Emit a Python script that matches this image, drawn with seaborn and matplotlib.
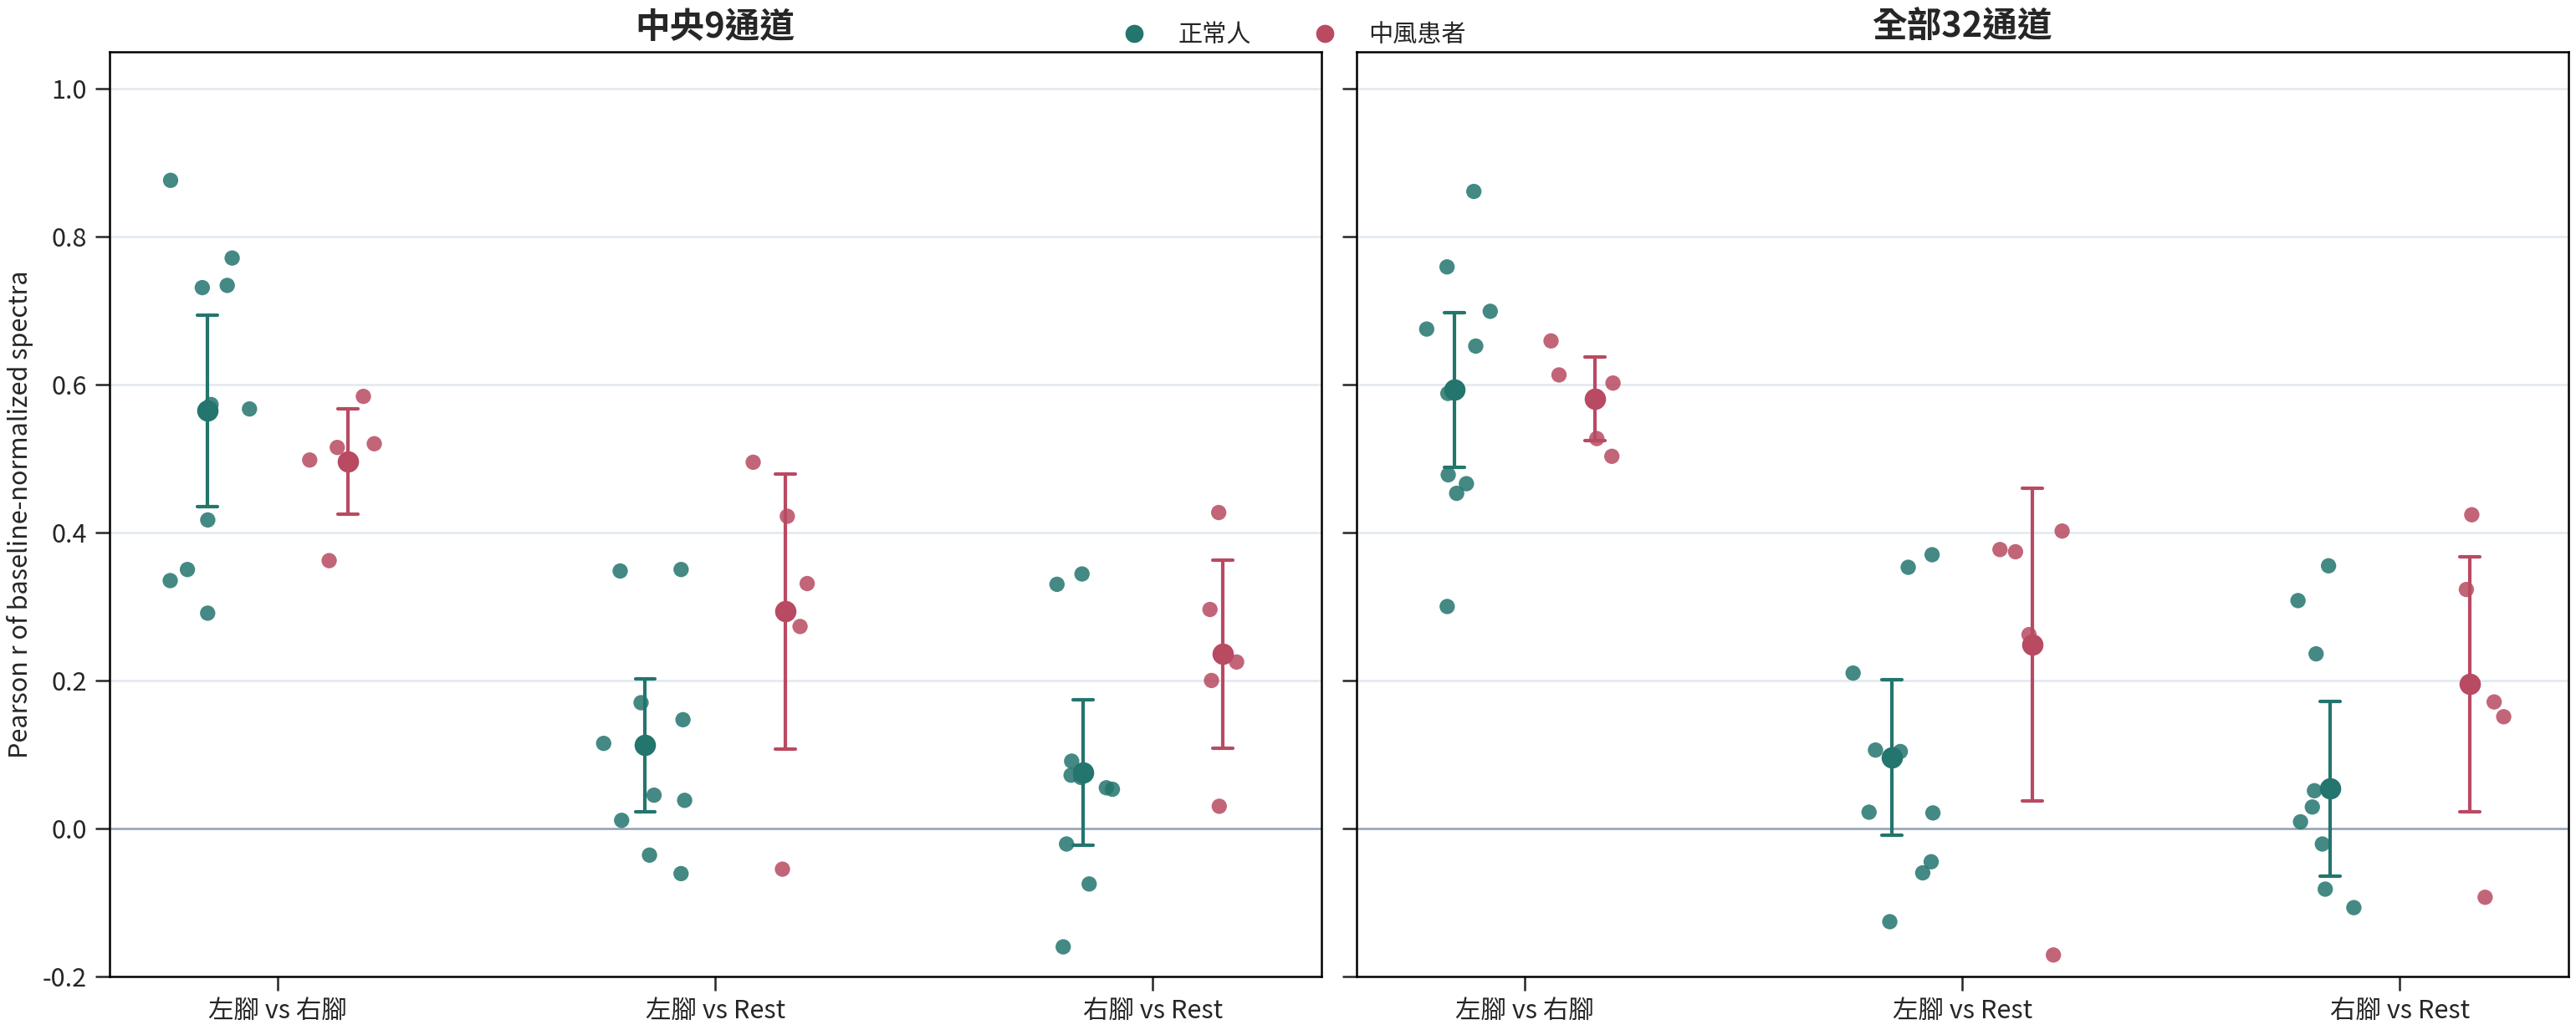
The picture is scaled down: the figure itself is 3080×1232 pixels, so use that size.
import numpy as np
import pandas as pd
import matplotlib
matplotlib.use("Agg")
import matplotlib.pyplot as plt
import seaborn as sns

# ---------------- data ----------------
categories = ["左腳 vs 右腳", "左腳 vs Rest", "右腳 vs Rest"]
groups = ["正常人", "中風患者"]
panels = ["中央9通道", "全部32通道"]

# 中央9通道
c9_normal_LR = [0.876, 0.771, 0.731, 0.734, 0.567, 0.573, 0.417, 0.335, 0.350, 0.291]
c9_stroke_LR = [0.584, 0.520, 0.515, 0.498, 0.362]
c9_normal_LRest = [0.350, 0.348, 0.170, 0.147, 0.115, 0.045, 0.038, 0.011, -0.036, -0.061]
c9_stroke_LRest = [0.495, 0.422, 0.331, 0.273, -0.055]
c9_normal_RRest = [0.330, 0.344, 0.091, 0.069, 0.072, 0.053, 0.055, -0.021, -0.075, -0.160]
c9_stroke_RRest = [0.427, 0.296, 0.225, 0.200, 0.030]

# 全部32通道
a32_normal_LR = [0.861, 0.759, 0.699, 0.675, 0.652, 0.588, 0.478, 0.466, 0.453, 0.300]
a32_stroke_LR = [0.659, 0.613, 0.602, 0.527, 0.503]
a32_normal_LRest = [0.370, 0.353, 0.210, 0.106, 0.104, 0.022, 0.021, -0.045, -0.060, -0.126]
a32_stroke_LRest = [0.402, 0.377, 0.374, 0.262, -0.171]
a32_normal_RRest = [0.355, 0.308, 0.236, 0.051, 0.029, 0.009, -0.021, -0.082, -0.107, -0.239]
a32_stroke_RRest = [0.424, 0.323, 0.171, 0.151, -0.093]

panel_data = {
    panels[0]: {
        groups[0]: [c9_normal_LR, c9_normal_LRest, c9_normal_RRest],
        groups[1]: [c9_stroke_LR, c9_stroke_LRest, c9_stroke_RRest],
    },
    panels[1]: {
        groups[0]: [a32_normal_LR, a32_normal_LRest, a32_normal_RRest],
        groups[1]: [a32_stroke_LR, a32_stroke_LRest, a32_stroke_RRest],
    },
}

# ---------------- styling ----------------
palette = {groups[0]: "#23756d", groups[1]: "#b84a62"}
hue_shift = {groups[0]: -0.16, groups[1]: 0.16}

rows = []
for p in panels:
    for g in groups:
        for ci, vals in enumerate(panel_data[p][g]):
            for v in vals:
                rows.append({"panel": p, "group": g, "cat": ci, "r": v})
df = pd.DataFrame(rows)
df["pos"] = df["cat"] + df["group"].map(hue_shift)

sns.set_theme(style="ticks", rc={
    "axes.edgecolor": "black",
    "axes.linewidth": 0.9,
    "xtick.major.width": 0.9,
    "ytick.major.width": 0.9,
    "axes.unicode_minus": False,
})
plt.rcParams["font.family"] = ["Noto Sans CJK TC", "DejaVu Sans"]

fig, axes = plt.subplots(1, 2, figsize=(15.4, 6.16), dpi=200, sharey=True)
fig.subplots_adjust(left=0.0424, right=0.997, top=0.9499, bottom=0.052, wspace=0.0288)

np.random.seed(7)
legend_handles = None
for i, (ax, p) in enumerate(zip(axes, panels)):
    sub = df[df["panel"] == p]
    ax.yaxis.grid(True, color="#e2e8f0", linewidth=0.9)
    ax.set_axisbelow(True)
    ax.axhline(0, color="#94a3b8", linewidth=0.9, zorder=1)
    sns.stripplot(data=sub, x="pos", y="r", hue="group", hue_order=groups,
                  palette=palette, native_scale=True, jitter=0.3125,
                  size=6.6, alpha=0.85, linewidth=0, legend=False, ax=ax,
                  zorder=2)
    sns.pointplot(data=sub, x="pos", y="r", hue="group", hue_order=groups,
                  palette=palette, native_scale=True, errorbar=("se", 1.96),
                  capsize=0.143, linestyle="none", marker="o",
                  markersize=9.2, markeredgewidth=0, linewidth=1.5,
                  err_kws={"linewidth": 1.5}, legend=(i == 0), ax=ax)
    if i == 0:
        leg = ax.get_legend()
        legend_handles = list(leg.legend_handles)
        legend_labels = [t.get_text() for t in leg.get_texts()]
        leg.remove()
    ax.set_xlim(-0.385, 2.385)
    ax.set_ylim(-0.2, 1.05)
    ax.set_xticks(range(len(categories)))
    ax.set_xticklabels(categories, fontsize=11)
    ax.set_yticks(np.arange(-0.2, 1.01, 0.2))
    ax.tick_params(axis="y", labelsize=11)
    ax.set_xlabel("")
    ax.set_ylabel("")
    ax.set_title(p, fontsize=15, fontweight="bold")
    for s in ax.spines.values():
        s.set_visible(True)
        s.set_color("black")
        s.set_linewidth(0.9)

axes[0].set_ylabel("Pearson r of baseline-normalized spectra", fontsize=11)

lg = fig.legend(legend_handles, legend_labels, loc="center",
                bbox_to_anchor=(0.5, 0.966), ncol=2, frameon=False,
                fontsize=10.5)
for h in lg.legend_handles:
    try:
        h.set_markersize(7.8)
        h.set_linestyle("none")
    except Exception:
        pass

fig.savefig("out.png", dpi=200)
